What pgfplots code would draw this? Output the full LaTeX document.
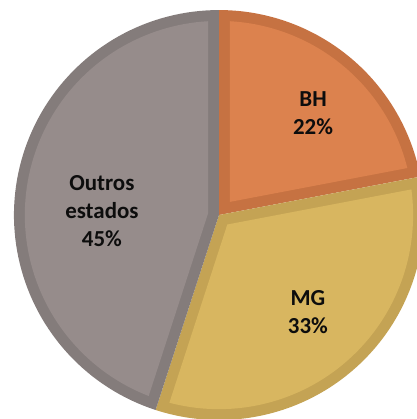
\documentclass[border=0pt]{standalone}
\usepackage{fontspec}
\setmainfont{Carlito}
\usepackage{pgfplots}
\pgfplotsset{compat=1.18}

\definecolor{bhFill}{RGB}{220,130,78}
\definecolor{bhLine}{RGB}{198,114,66}
\definecolor{mgFill}{RGB}{216,182,96}
\definecolor{mgLine}{RGB}{196,163,84}
\definecolor{otFill}{RGB}{150,140,139}
\definecolor{otLine}{RGB}{132,124,123}

% shares (%)
\def\pBH{22}
\def\pMG{33}
\def\pOT{45}

\def\R{1}      % pie radius
\def\W{0.053}  % inner border width

% #1 start angle, #2 end angle (counter-clockwise), #3 fill, #4 border
\newcommand{\pieslice}[4]{%
  \pgfmathsetmacro{\ph}{(#2-#1)/2}%
  \pgfmathsetmacro{\pm}{(#1+#2)/2}%
  \pgfmathsetmacro{\pr}{\W/sin(\ph)}%
  \pgfmathsetmacro{\px}{\pr*cos(\pm)}%
  \pgfmathsetmacro{\py}{\pr*sin(\pm)}%
  \pgfmathsetmacro{\dl}{asin(\W/(\R-\W))}%
  \pgfmathsetmacro{\pa}{#1+\dl}%
  \pgfmathsetmacro{\pb}{#2-\dl}%
  \edef\doslice{%
    \noexpand\addplot[fill=#4, draw=none, domain=#1:#2, samples=90]
      ({\R*cos(x)},{\R*sin(x)}) -- (axis cs:0,0) -- cycle;
    \noexpand\addplot[fill=#3, draw=none, domain=\pa:\pb, samples=90]
      ({(\R-\W)*cos(x)},{(\R-\W)*sin(x)}) -- (axis cs:\px,\py) -- cycle;
  }\doslice
}

\begin{document}
\begin{tikzpicture}
\begin{axis}[
    hide axis,
    scale only axis,
    width=10.425cm, height=10.475cm,
    xmin=-1.068, xmax=0.966,
    ymin=-0.995, ymax=1.049,
    clip=true,
]
% BH from 90 clockwise, then MG, then Outros estados
\pgfmathsetmacro{\aA}{90-3.6*\pBH}
\pgfmathsetmacro{\aB}{\aA-3.6*\pMG}
\pgfmathsetmacro{\aC}{\aB-3.6*\pOT}
\pieslice{\aA}{90}{bhFill}{bhLine}
\pieslice{\aB}{\aA}{mgFill}{mgLine}
\pieslice{\aC}{\aB}{otFill}{otLine}

\node[align=center, font=\fontsize{16.3}{20}\selectfont\bfseries, text=black!95]
  at (axis cs:0.459,0.498) {BH\\22\%};
\node[align=center, font=\fontsize{16.3}{20}\selectfont\bfseries, text=black!95]
  at (axis cs:0.434,-0.473) {MG\\33\%};
\node[align=center, font=\fontsize{16.3}{20}\selectfont\bfseries, text=black!95]
  at (axis cs:-0.571,0.02) {Outros\\estados\\45\%};
\end{axis}
\pgfresetboundingbox
\path (current axis.south west) rectangle (current axis.north east);
\end{tikzpicture}
\end{document}
